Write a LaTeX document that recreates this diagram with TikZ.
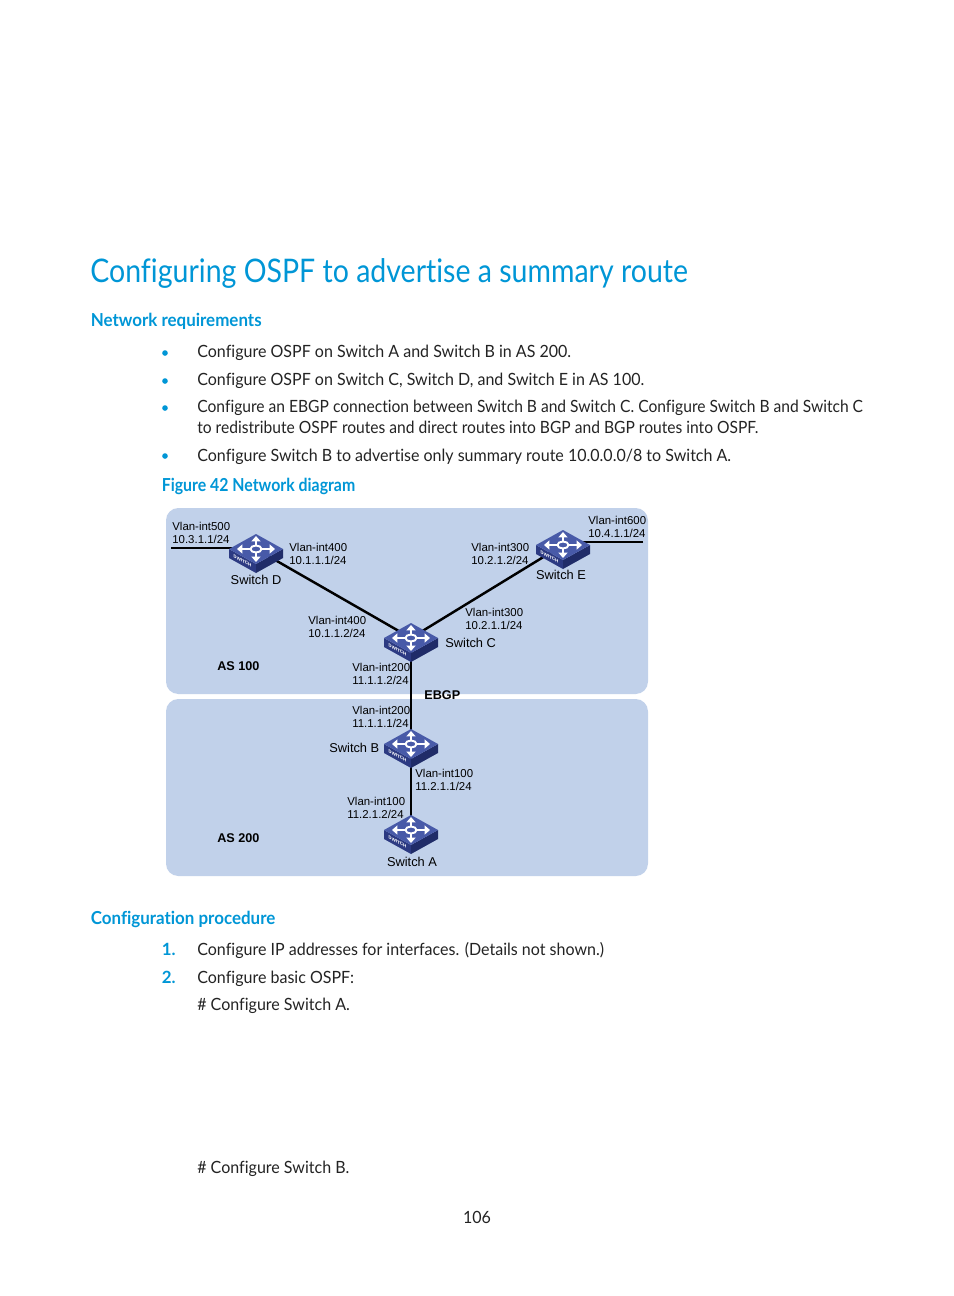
\documentclass[tikz,border=0pt]{standalone}
\usepackage{fontspec}
\setmainfont{Lato}[Ligatures=CommonOff]
\newfontfamily\titlefont{Lato}[Ligatures=CommonOff,FakeStretch=0.877]
\newfontfamily\headfont{Lato}[Ligatures=CommonOff,FakeStretch=0.945]
\newfontfamily\capfont{Lato}[Ligatures=CommonOff,FakeStretch=0.885]
\newfontfamily\bodyfont{Lato}[Ligatures=CommonOff,FakeStretch=0.95]
\newfontfamily\tightfont{Lato}[Ligatures=CommonOff,FakeStretch=0.925]
\newfontfamily\arialfont{Liberation Sans}
\usepackage{xcolor}
\usetikzlibrary{arrows.meta}
\definecolor{hpblue}{RGB}{0,150,214}
\definecolor{panelblue}{RGB}{193,209,234}
\definecolor{switchtop}{RGB}{72,90,168}
\definecolor{switchleft}{RGB}{44,58,130}
\definecolor{switchright}{RGB}{32,44,104}
\definecolor{bodygray}{RGB}{35,35,35}
\tikzset{
    pagetitle/.style={anchor=base west, inner sep=0pt, text=hpblue, font=\titlefont\fontsize{18.5}{22}\selectfont},
    pagehead/.style={anchor=base west, inner sep=0pt, text=hpblue, font=\headfont\fontsize{10.2}{12}\selectfont\bfseries},
    bodyline/.style={anchor=base west, inner sep=0pt, text=bodygray, font=\bodyfont\fontsize{9.6}{12}\selectfont},
    tightline/.style={bodyline, font=\tightfont\fontsize{9.6}{12}\selectfont},
    listbullet/.style={circle, fill=hpblue, inner sep=0pt, minimum size=3.2pt},
    listnumber/.style={anchor=base west, inner sep=0pt, text=hpblue, font=\fontsize{9.6}{12}\selectfont\bfseries},
    aspanel/.style={fill=panelblue, rounded corners=7pt},
    netlink/.style={line width=1.4pt, black},
    portlabel/.style={anchor=west, inner sep=0pt, align=left, text=black, font=\arialfont\fontsize{6.5}{7.4}\selectfont},
    switchlabel/.style={inner sep=0pt, text=black, font=\arialfont\fontsize{7.3}{9}\selectfont},
    aslabel/.style={anchor=west, inner sep=0pt, text=black, font=\arialfont\bfseries\fontsize{7.2}{9}\selectfont},
    switcharrow/.style={white, line width=1.2pt, -{Triangle[width=5pt,length=3pt]}},
    switchicon/.pic={
        \fill[switchleft] (-27,0) -- (0,15) -- (0,24) -- (-27,9) -- cycle;
        \fill[switchright] (27,0) -- (0,15) -- (0,24) -- (27,9) -- cycle;
        \fill[switchtop] (-27,0) -- (0,-15) -- (27,0) -- (0,15) -- cycle;
        \draw[switcharrow] (-5,0) -- (-19,0);
        \draw[switcharrow] (5,0) -- (19,0);
        \draw[switcharrow] (0,-3) -- (0,-13);
        \draw[switcharrow] (0,3) -- (0,13);
        \draw[white, line width=1.1pt, fill=switchtop] (0,0) ellipse (5.5 and 3.5);
        \node[transform shape, yslant=-0.52, text=white, inner sep=0pt, font=\arialfont\bfseries\fontsize{2.6}{3}\selectfont] at (-13.5,12) {SWITCH};
    }
}
\begin{document}
\begin{tikzpicture}[x=0.02cm, y=-0.02cm]
    \useasboundingbox (0,0) rectangle (954,1296);

    % 1. Page text above the figure
    \node[pagetitle] (title) at (90,282) {Configuring OSPF to advertise a summary route};
    \node[pagehead] (headreq) at (90.5,326) {Network requirements};
    \node[listbullet] (bulletone) at (165,353) {};
    \node[listbullet] (bullettwo) at (165,381) {};
    \node[listbullet] (bulletthree) at (165,408) {};
    \node[listbullet] (bulletfour) at (165,456) {};
    \node[bodyline] (reqone) at (197,357) {Configure OSPF on Switch A and Switch B in AS 200.};
    \node[bodyline] (reqtwo) at (197,385) {Configure OSPF on Switch C, Switch D, and Switch E in AS 100.};
    \node[tightline] (reqthree) at (197,412) {Configure an EBGP connection between Switch B and Switch C. Configure Switch B and Switch C};
    \node[tightline] (reqthreeb) at (197,433) {to redistribute OSPF routes and direct routes into BGP and BGP routes into OSPF.};
    \node[bodyline] (reqfour) at (197,461) {Configure Switch B to advertise only summary route 10.0.0.0/8 to Switch A.};
    \node[pagehead, font=\capfont\fontsize{10.2}{12}\selectfont\bfseries] (figcaption) at (161.5,491) {Figure 42 Network diagram};

    % 2. The two AS panels go in the background
    \fill[aspanel] (166,508) rectangle (648,694);
    \fill[aspanel] (166,699) rectangle (648,876);

    % 3. Switch positions and free link ends
    \coordinate (swD) at (256,549);
    \coordinate (swE) at (563,545);
    \coordinate (swC) at (411,638);
    \coordinate (swB) at (411,744);
    \coordinate (swA) at (411,830);
    \coordinate (endD) at (171,548);
    \coordinate (endE) at (643,542);

    % 4. Links under the switches
    \draw[netlink] (endD) -- (swD |- endD);
    \draw[netlink] (endE) -- (swE |- endE);
    \draw[netlink] (swD) -- (swC);
    \draw[netlink] (swE) -- (swC);
    \draw[netlink] (swC) -- (swB);
    \draw[netlink] (swB) -- (swA);

    % 5. Switches on top
    \foreach \sw in {swD,swE,swC,swB,swA}
        \pic at (\sw) {switchicon};

    % 6. Figure labels
    \node[portlabel] (lblDa) at (172,532.5) {Vlan-int500\\10.3.1.1/24};
    \node[portlabel] (lblDb) at (289,553.5) {Vlan-int400\\10.1.1.1/24};
    \node[portlabel] (lblCa) at (308,627) {Vlan-int400\\10.1.1.2/24};
    \node[portlabel] (lblCb) at (352,674) {Vlan-int200\\11.1.1.2/24};
    \node[portlabel] (lblEa) at (471,554) {Vlan-int300\\10.2.1.2/24};
    \node[portlabel] (lblEb) at (588,527) {Vlan-int600\\10.4.1.1/24};
    \node[portlabel] (lblCc) at (465,619) {Vlan-int300\\10.2.1.1/24};
    \node[portlabel] (lblBa) at (352,716.5) {Vlan-int200\\11.1.1.1/24};
    \node[portlabel] (lblBb) at (415,780) {Vlan-int100\\11.2.1.1/24};
    \node[portlabel] (lblAa) at (347,807.5) {Vlan-int100\\11.2.1.2/24};
    \node[switchlabel] (nameD) at (256,580) {Switch D};
    \node[switchlabel] (nameE) at (561,575) {Switch E};
    \node[switchlabel, anchor=west] (nameC) at (445,643) {Switch C};
    \node[switchlabel, anchor=west] (nameB) at (329,748) {Switch B};
    \node[switchlabel] (nameA) at (412,862) {Switch A};
    \node[aslabel] (asone) at (217,666) {AS 100};
    \node[aslabel] (astwo) at (217,838) {AS 200};
    \node[aslabel] (ebgp) at (424,695) {EBGP};

    % 7. Page text below the figure
    \node[pagehead] (headproc) at (90.5,924) {Configuration procedure};
    \node[listnumber] (numone) at (161.5,955) {1.};
    \node[listnumber] (numtwo) at (161.5,983) {2.};
    \node[bodyline] (procone) at (197,955) {Configure IP addresses for interfaces. (Details not shown.)};
    \node[bodyline] (proctwo) at (197,983) {Configure basic OSPF:};
    \node[bodyline] (procthree) at (197,1010) {\# Configure Switch A.};
    \node[bodyline] (procfour) at (197,1173) {\# Configure Switch B.};
    \node[bodyline, anchor=base] (pagenum) at (477,1223) {106};
\end{tikzpicture}
\end{document}
